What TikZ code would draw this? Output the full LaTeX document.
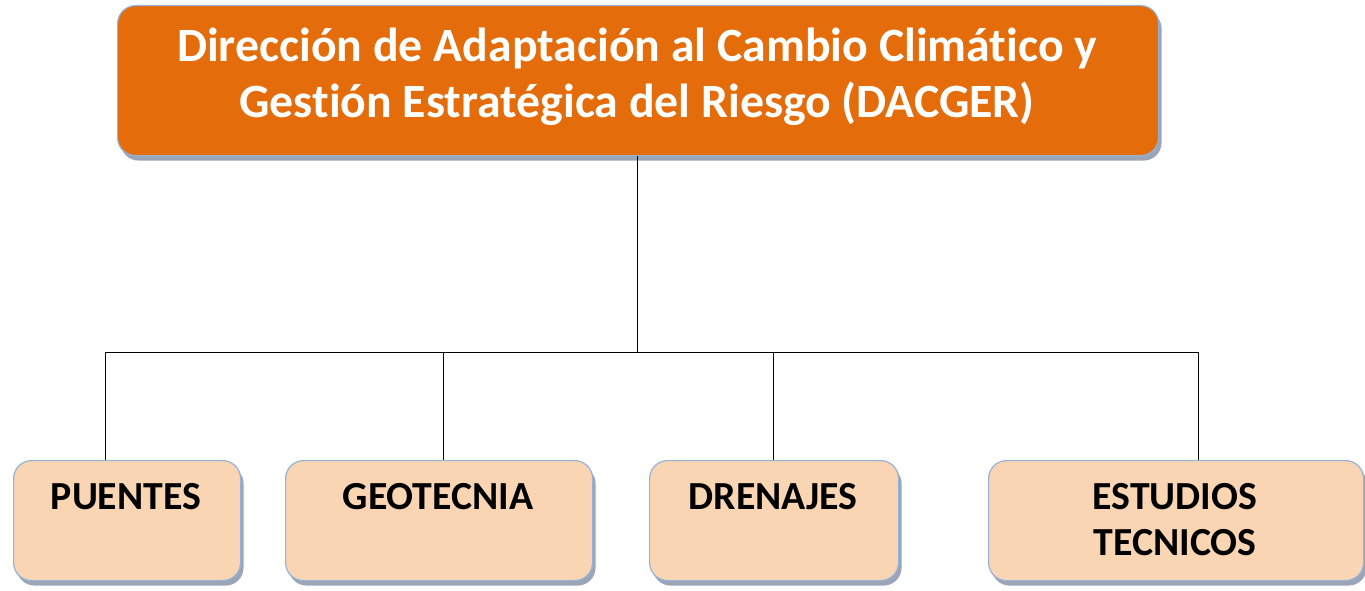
\documentclass[tikz,border=0pt]{standalone}
\usepackage{fontspec}
\setmainfont{Carlito}[Ligatures=NoCommon]
\usetikzlibrary{shadows}
\definecolor{topfill}{RGB}{228,108,10}
\definecolor{subfill}{RGB}{250,213,180}
\definecolor{boxline}{RGB}{149,179,215}
\definecolor{shadowc}{RGB}{120,135,160}
\tikzset{
  boxbase/.style={draw=boxline, line width=1.2pt, rounded corners=18pt, anchor=north west, inner sep=0pt,
    drop shadow={shadow xshift=3pt, shadow yshift=-5pt, fill=shadowc, opacity=0.75}},
  topbox/.style={boxbase, fill=topfill, minimum width=1041pt, minimum height=150pt},
  subbox/.style={boxbase, fill=subfill, minimum height=120pt},
  toptext/.style={text=white, font=\fontsize{47.8}{56}\selectfont\bfseries, align=center},
  subtext/.style={text=black, font=\fontsize{39.8}{45}\selectfont\bfseries, align=center, anchor=base},
  conn/.style={draw=black, line width=1pt}
}
\begin{document}
\begin{tikzpicture}[x=1pt,y=-1pt]
\useasboundingbox (0,0) rectangle (1365,591);
\node[topbox] (top) at (117,5) {};
\node[toptext, anchor=base] (t1) at (637,62) {Dirección de Adaptación al Cambio Climático y};
\node[toptext, anchor=base] (t2) at (637,118) {Gestión Estratégica del Riesgo (DACGER)};

\node[subbox, minimum width=227pt] (p) at (13,460) {};
\node[subbox, minimum width=307pt] (g) at (285,460) {};
\node[subbox, minimum width=249pt] (d) at (649,460) {};
\node[subbox, minimum width=375pt] (e) at (988,460) {};

\node[subtext] (pt) at (126,509) {PUENTES};
\node[subtext] (gt) at (438,509) {GEOTECNIA};
\node[subtext] (dt) at (773,509) {DRENAJES};
\node[subtext] (et1) at (1175,509) {ESTUDIOS};
\node[subtext] (et2) at (1175,555) {TECNICOS};

\coordinate (bus) at (637,352);
\coordinate (b1) at (105,352);
\coordinate (b2) at (443,352);
\coordinate (b3) at (773,352);
\coordinate (b4) at (1198,352);

\draw[conn] (top.south -| bus) -- (bus);
\draw[conn] (b1) -- (b4);
\draw[conn] (b1) -- (b1 |- p.north);
\draw[conn] (b2) -- (b2 |- g.north);
\draw[conn] (b3) -- (b3 |- d.north);
\draw[conn] (b4) -- (b4 |- e.north);
\end{tikzpicture}
\end{document}
